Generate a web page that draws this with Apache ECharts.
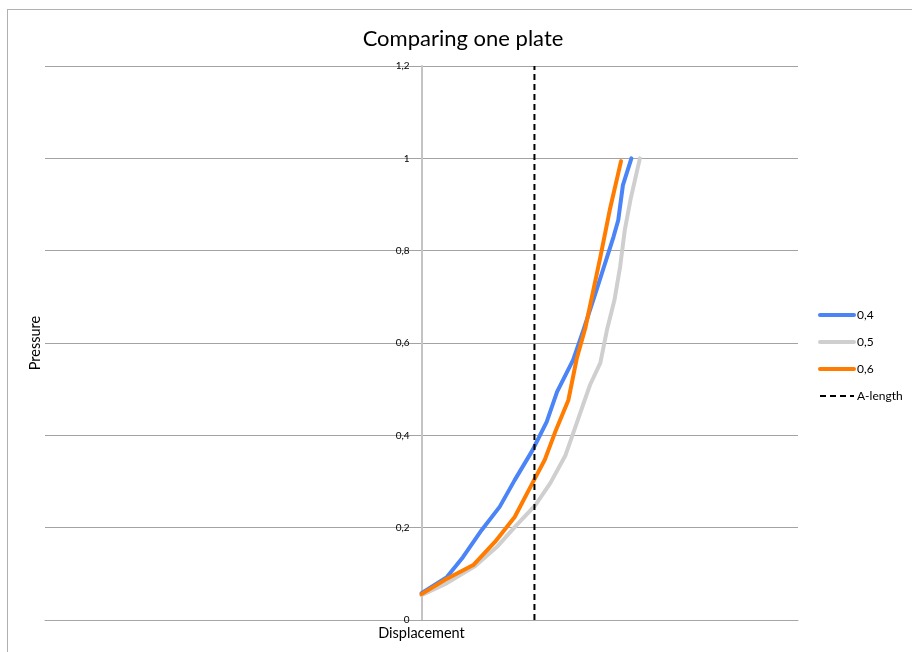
<!DOCTYPE html>
<html>
<head>
<meta charset="utf-8">
<title>Comparing one plate</title>
<script src="https://cdn.jsdelivr.net/npm/echarts@6/dist/echarts.min.js"></script>
<style>
  html, body { margin: 0; padding: 0; background: #fff; overflow: hidden; }
  #wrap { position: relative; width: 912px; height: 652px; overflow: hidden; }
  #frame { position: absolute; left: 7px; top: 9px; width: 1000px; height: 1000px;
           border: 1px solid #b0b0b0; box-sizing: border-box; }
  #chart { position: absolute; left: 0; top: 0; width: 912px; height: 652px; }
</style>
</head>
<body>
<div id="wrap">
  <div id="frame"></div>
  <div id="chart"></div>
</div>
<script>
// Displacement (x) and pressure (y) readings for each plate setting
const disp04 = [0, 2.7, 4.4, 6.4, 8.3, 9.9, 11.8, 13.3, 14.4, 16.1, 17.2, 18.6, 20.4, 20.9, 21.4, 22.3];
const pres04 = [0.058, 0.093, 0.136, 0.195, 0.245, 0.303, 0.368, 0.429, 0.494, 0.563, 0.628, 0.715, 0.830, 0.866, 0.942, 1.0];

const disp05 = [0, 2.7, 5.7, 8.0, 9.9, 12.1, 13.7, 15.3, 16.6, 17.9, 19.0, 19.7, 20.5, 21.1, 21.6, 22.2, 23.2];
const pres05 = [0.054, 0.080, 0.117, 0.158, 0.201, 0.249, 0.297, 0.357, 0.433, 0.509, 0.557, 0.628, 0.693, 0.765, 0.845, 0.910, 1.0];

const disp06 = [0, 2.5, 5.5, 7.8, 9.9, 11.8, 13.1, 14.2, 15.6, 16.5, 17.4, 19.0, 20.0, 21.2];
const pres06 = [0.056, 0.087, 0.119, 0.169, 0.223, 0.297, 0.347, 0.407, 0.476, 0.567, 0.632, 0.786, 0.888, 0.994];

// Vertical marker at the A-length
const aLengthX = [12, 12];
const aLengthY = [0, 1.2];

const seriesNames = ['0,4', '0,5', '0,6', 'A-length'];
const seriesColors = ['#4a84f6', '#cfcfcf', '#ff7c00', '#000000'];

const xRange = [-40, 40];
const yTicks = [0, 0.2, 0.4, 0.6, 0.8, 1, 1.2];

const FONT = 'Lato, "Open Sans", sans-serif';

const GRID = { left: 45, right: 114, top: 66, bottom: 32 };
// horizontal pixel shift that puts the value axis where displacement is zero
const plotWidth = 912 - GRID.left - GRID.right;
const zeroShift = plotWidth * (0 - xRange[0]) / (xRange[1] - xRange[0]);

function pairs(xs, ys) {
  return xs.map((x, i) => [x, ys[i]]);
}

function curve(name, color, xs, ys) {
  return {
    name: name,
    type: 'line',
    data: pairs(xs, ys),
    symbol: 'none',
    smooth: false,
    lineStyle: { color: color, width: 4, cap: 'round', join: 'round' },
    itemStyle: { color: color },
    emphasis: { disabled: true },
    animation: false
  };
}

const chart = echarts.init(document.getElementById('chart'), null, { renderer: 'canvas' });

chart.setOption({
  backgroundColor: 'transparent',
  animation: false,
  textStyle: { fontFamily: FONT },
  title: {
    text: 'Comparing one plate',
    left: 463,
    top: 28,
    padding: 0,
    textAlign: 'center',
    textStyle: { fontFamily: FONT, fontSize: 22, fontWeight: 'normal', color: '#000' }
  },
  legend: {
    orient: 'vertical',
    left: 818,
    top: 309,
    itemWidth: 34,
    itemHeight: 14,
    itemGap: 15,
    padding: 0,
    itemStyle: { opacity: 0 },
    textStyle: { fontFamily: FONT, fontSize: 12, color: '#000', padding: [0, 0, 0, -2] },
    data: [
      { name: seriesNames[0], lineStyle: { width: 4 } },
      { name: seriesNames[1], lineStyle: { width: 4 } },
      { name: seriesNames[2], lineStyle: { width: 4 } },
      { name: seriesNames[3], lineStyle: { width: 2 } }
    ]
  },
  grid: Object.assign({ outerBoundsMode: 'none', containLabel: false }, GRID),
  xAxis: {
    type: 'value',
    min: xRange[0],
    max: xRange[1],
    name: 'Displacement',
    nameLocation: 'middle',
    nameGap: 6,
    nameTextStyle: { fontFamily: FONT, fontSize: 14.5, color: '#000', verticalAlign: 'top' },
    axisLine: { show: true, onZero: true, lineStyle: { color: '#a6a6a6', width: 1 } },
    axisTick: { show: false },
    axisLabel: { show: false },
    splitLine: { show: false }
  },
  yAxis: {
    type: 'value',
    position: 'left',
    offset: -zeroShift,
    min: yTicks[0],
    max: yTicks[yTicks.length - 1],
    interval: 0.2,
    name: 'Pressure',
    nameLocation: 'middle',
    nameGap: 379,
    nameRotate: 90,
    nameTextStyle: { fontFamily: FONT, fontSize: 14.5, color: '#000' },
    axisLine: { show: true, onZero: false, lineStyle: { color: '#c4c4c4', width: 2 } },
    axisTick: { show: false },
    axisLabel: {
      margin: 12,
      fontFamily: FONT,
      fontSize: 10,
      color: '#000',
      formatter: v => String(Math.round(v * 10) / 10).replace('.', ',')
    },
    splitLine: { show: true, lineStyle: { color: '#a3a3a3', width: 1 } }
  },
  series: [
    curve(seriesNames[0], seriesColors[0], disp04, pres04),
    curve(seriesNames[1], seriesColors[1], disp05, pres05),
    curve(seriesNames[2], seriesColors[2], disp06, pres06),
    {
      name: seriesNames[3],
      type: 'line',
      data: pairs(aLengthX, aLengthY),
      symbol: 'none',
      lineStyle: { color: seriesColors[3], width: 2, type: [6, 4] },
      itemStyle: { color: seriesColors[3] },
      emphasis: { disabled: true },
      z: 5,
      animation: false
    }
  ]
});
</script>
</body>
</html>
